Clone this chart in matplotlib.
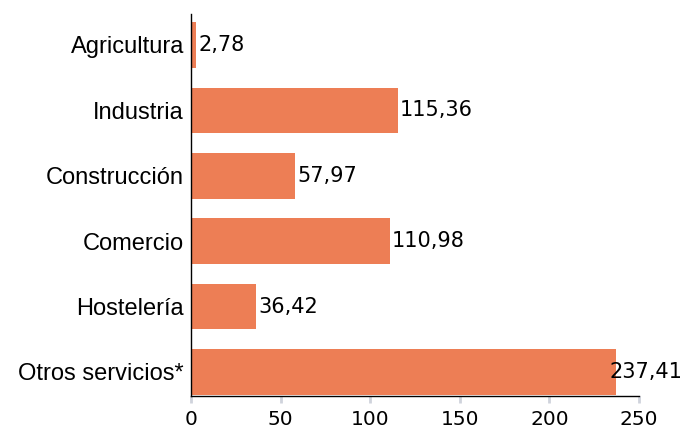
import matplotlib
matplotlib.use("Agg")
import matplotlib.pyplot as plt

categories = ["Agricultura", "Industria", "Construcción", "Comercio", "Hostelería", "Otros servicios*"]
values = [2.78, 115.36, 57.97, 110.98, 36.42, 237.41]
value_labels = ["2,78", "115,36", "57,97", "110,98", "36,42", "237,41"]
x_ticks = [0, 50, 100, 150, 200, 250]

W, H = 696, 428
fig = plt.figure(figsize=(W / 100, H / 100), dpi=100)
ax = fig.add_axes([191 / W, 1 - 396 / H, (639 - 191) / W, (396 - 14) / H])

color = "#ED7E55"
y = list(range(len(categories)))
ax.barh(y, values, height=0.70, color=color)
ax.set_ylim(5.367, -0.474)
ax.set_xlim(0, 250)

ax.set_yticks(y)
ax.set_yticklabels(categories, family=["Liberation Sans", "DejaVu Sans"], fontsize=17)
ax.tick_params(axis="y", length=0, pad=5)
ax.set_xticks(x_ticks)
ax.set_xticklabels([str(t) for t in x_ticks], fontsize=14.5)
ax.tick_params(axis="x", length=5, width=2, color="#cfd3dc", direction="out", pad=5)

for s in ["top", "right"]:
    ax.spines[s].set_visible(False)
ax.spines["left"].set_color("black")
ax.spines["bottom"].set_color("black")
ax.spines["left"].set_linewidth(1)
ax.spines["bottom"].set_linewidth(1)

fig.canvas.draw()
renderer = fig.canvas.get_renderer()
for yi, v, lab in zip(y, values, value_labels):
    t = ax.annotate(lab, (v, yi), xytext=(1.5, 0), textcoords="offset points",
                    ha="left", va="center", fontsize=15, color="black")
    bb = t.get_window_extent(renderer)
    if bb.x1 > W - 12:
        t.remove()
        fig.text((W - 14) / W, ax.transData.transform((0, yi))[1] / H, lab,
                 ha="right", va="center", fontsize=15, color="black")

fig.savefig("out.png", dpi=100)
